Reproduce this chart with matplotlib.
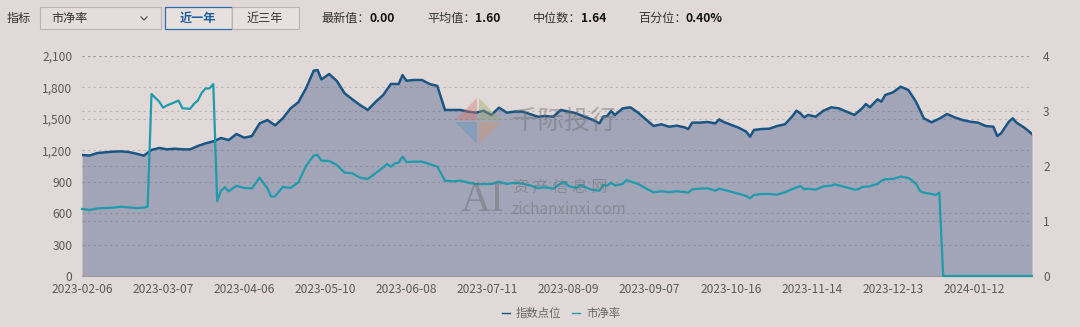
import matplotlib
matplotlib.use("Agg")
import matplotlib.pyplot as plt
from matplotlib.patches import Rectangle, Polygon
from matplotlib.lines import Line2D

plt.rcParams['font.family'] = ['Noto Sans CJK SC', 'DejaVu Sans']

# trading-day index of each reading, and the index level (left axis)
index_x = [0, 2, 4, 6, 8, 10, 12, 14, 16, 18, 20, 22, 24, 26, 28, 30, 32, 34, 36, 38,
           40, 42, 44, 46, 48, 50, 52, 54, 56, 58, 60, 61, 62, 64, 66, 68, 70, 72, 74, 76,
           78, 80, 82, 83, 84, 86, 88, 90, 92, 94, 96, 98, 100, 102, 104, 106, 108, 110, 112, 114,
           116, 118, 120, 122, 124, 126, 128, 130, 132, 134, 135, 136, 137, 138, 140, 142, 144, 146, 148, 150,
           152, 154, 156, 157, 158, 160, 162, 164, 165, 166, 168, 170, 172, 173, 174, 176, 178, 180, 182, 184,
           185, 186, 187, 188, 190, 192, 194, 196, 198, 200, 202, 203, 204, 206, 207, 208, 210, 212, 214, 216,
           218, 220, 222, 224, 226, 228, 230, 232, 234, 236, 237, 238, 240, 241, 242, 244, 245, 246]
index_vals = [1155, 1150, 1174, 1180, 1187, 1190, 1184, 1168, 1149, 1203, 1222, 1209, 1215, 1209, 1209, 1241, 1266, 1285, 1317, 1298,
              1355, 1320, 1336, 1457, 1489, 1438, 1505, 1600, 1658, 1791, 1960, 1966, 1877, 1928, 1861, 1744, 1686, 1632, 1585, 1661,
              1728, 1833, 1833, 1918, 1864, 1871, 1871, 1833, 1814, 1585, 1585, 1585, 1569, 1559, 1578, 1537, 1607, 1559, 1569, 1569,
              1546, 1521, 1527, 1521, 1585, 1569, 1553, 1521, 1495, 1457, 1521, 1527, 1575, 1537, 1600, 1610, 1559, 1495, 1432, 1448,
              1425, 1435, 1419, 1403, 1464, 1464, 1470, 1457, 1495, 1473, 1444, 1416, 1378, 1330, 1394, 1403, 1406, 1432, 1448, 1527,
              1578, 1553, 1514, 1537, 1521, 1578, 1610, 1600, 1569, 1537, 1600, 1642, 1610, 1686, 1664, 1728, 1753, 1807, 1775, 1661,
              1505, 1467, 1502, 1546, 1514, 1489, 1473, 1464, 1432, 1425, 1336, 1362, 1473, 1505, 1464, 1416, 1387, 1355]

# price-to-book ratio (right axis)
pb_x = [0, 2, 4, 6, 8, 10, 12, 14, 16, 17, 18, 20, 21, 22, 24, 25, 26, 28, 29, 30,
        31, 32, 33, 34, 35, 36, 37, 38, 40, 42, 44, 46, 48, 49, 50, 52, 54, 56, 58, 60,
        61, 62, 64, 66, 68, 70, 72, 74, 76, 78, 79, 80, 81, 82, 83, 84, 86, 88, 90, 92,
        94, 96, 98, 100, 102, 104, 106, 108, 110, 112, 114, 116, 118, 120, 122, 124, 125, 126, 128, 129,
        130, 132, 134, 135, 136, 137, 138, 140, 141, 142, 144, 146, 148, 150, 152, 154, 156, 157, 158, 160,
        162, 164, 165, 166, 168, 170, 172, 173, 174, 176, 178, 180, 182, 184, 186, 187, 188, 190, 192, 194,
        195, 196, 198, 200, 201, 202, 204, 205, 206, 207, 208, 210, 212, 213, 214, 215, 216, 217, 218, 220,
        221, 222, 223, 246]
pb_vals = [1.218, 1.200, 1.230, 1.236, 1.242, 1.260, 1.248, 1.236, 1.242, 1.262, 3.309, 3.17, 3.06, 3.10, 3.16, 3.19, 3.05, 3.04, 3.13, 3.19,
           3.33, 3.41, 3.41, 3.49, 1.363, 1.551, 1.612, 1.54, 1.64, 1.60, 1.594, 1.788, 1.594, 1.442, 1.45, 1.62, 1.60, 1.70, 2.00, 2.19,
           2.20, 2.097, 2.091, 2.018, 1.879, 1.867, 1.788, 1.764, 1.867, 1.976, 2.036, 1.988, 2.048, 2.06, 2.17, 2.072, 2.079, 2.079, 2.036, 1.988,
           1.733, 1.721, 1.733, 1.697, 1.672, 1.672, 1.672, 1.715, 1.672, 1.697, 1.679, 1.648, 1.600, 1.612, 1.588, 1.685, 1.703, 1.636, 1.600, 1.655,
           1.624, 1.57, 1.551, 1.655, 1.642, 1.697, 1.648, 1.672, 1.745, 1.721, 1.672, 1.594, 1.521, 1.539, 1.527, 1.539, 1.527, 1.515, 1.576, 1.588,
           1.594, 1.551, 1.588, 1.570, 1.533, 1.497, 1.454, 1.412, 1.473, 1.491, 1.491, 1.479, 1.521, 1.582, 1.636, 1.576, 1.588, 1.570, 1.630, 1.642,
           1.666, 1.648, 1.612, 1.570, 1.576, 1.618, 1.630, 1.655, 1.672, 1.733, 1.758, 1.764, 1.806, 1.794, 1.782, 1.733, 1.672, 1.545, 1.515, 1.491,
           1.473, 1.515, 0.0, 0.0]

tick_pos = [0, 21, 42, 63, 84, 105, 126, 147, 168, 189, 210, 231]
tick_labels = ['2023-02-06', '2023-03-07', '2023-04-06', '2023-05-10', '2023-06-08', '2023-07-11',
               '2023-08-09', '2023-09-07', '2023-10-16', '2023-11-14', '2023-12-13', '2024-01-12']

stats = [('最新值：', '0.00'), ('平均值：', '1.60'), ('中位数：', '1.64'), ('百分位：', '0.40%')]

BG = '#e1d9d7'
FILL = '#a1a5b7'
DARK = '#1b5583'
TEAL = '#1f9bab'
W, H = 1080, 327


def fx(x):
    return x / W


def fy(y):
    return 1 - y / H


fig = plt.figure(figsize=(10.8, 3.27), dpi=100, facecolor=BG)
ax = fig.add_axes([fx(82), fy(276), fx(1032) - fx(82), fy(56) - fy(276)])
ax.set_facecolor('none')

ax.fill_between(index_x, index_vals, 0, color=FILL, lw=0, zorder=1)
ax.plot(index_x, index_vals, color=DARK, lw=1.8, zorder=3, label='指数点位')
ax.set_xlim(0, 246)
ax.set_ylim(0, 2100)
ax.set_yticks(range(0, 2101, 300))
ax.set_yticklabels(['{:,}'.format(v) for v in range(0, 2101, 300)])
ax.set_xticks(tick_pos)
ax.set_xticklabels(tick_labels)
ax.grid(axis='y', color='#505050', alpha=0.28, lw=0.8, ls=(0, (2, 3)))
ax.set_axisbelow(False)
ax.tick_params(axis='y', length=0, pad=7, labelsize=8.6, labelcolor='#5a5a5a')
ax.tick_params(axis='x', length=0, pad=5, labelsize=8.6, labelcolor='#5a5a5a')

ax2 = ax.twinx()
ax2.plot(pb_x, pb_vals, color=TEAL, lw=1.6, zorder=3, clip_on=False, label='市净率')
ax2.set_ylim(0, 4)
ax2.set_yticks([0, 1, 2, 3, 4])
ax2.grid(axis='y', color='#505050', alpha=0.28, lw=0.8, ls=(0, (2, 3)))
ax2.tick_params(axis='y', length=0, pad=8, labelsize=8.6, labelcolor='#5a5a5a')

for a in (ax, ax2):
    for s in a.spines.values():
        s.set_visible(False)
ax.spines['bottom'].set_visible(True)
ax.spines['bottom'].set_color('#9c9898')
ax.spines['bottom'].set_linewidth(0.8)

# legend
h1, l1 = ax.get_legend_handles_labels()
h2, l2 = ax2.get_legend_handles_labels()
leg = fig.legend(h1 + h2, l1 + l2, loc='center', bbox_to_anchor=(fx(561), fy(313)), ncol=2,
                 frameon=False, fontsize=8.2, handlelength=0.7, handletextpad=0.5,
                 columnspacing=1.0, labelcolor='#666666')
for ln in leg.get_lines():
    ln.set_linewidth(1.0)

# watermark
logo = [([(455, 120), (477, 98), (477, 120)], '#d9736a'),
        ([(479, 98), (501, 120), (479, 120)], '#9aa86a'),
        ([(455, 122), (477, 122), (477, 144)], '#5f8fb8'),
        ([(479, 122), (501, 122), (479, 144)], '#d6956a')]
for pts, c in logo:
    fig.patches.append(Polygon([(fx(px), fy(py)) for px, py in pts], closed=True,
                               transform=fig.transFigure, fc=c, ec='none', alpha=0.4))
fig.text(fx(512), fy(121), '千际投行', fontsize=19, color='#707070', alpha=0.45, va='center')
fig.text(fx(461), fy(201), 'AI', fontsize=30, family='Liberation Serif', color='#6a6a6a',
         alpha=0.45, va='center')
fig.text(fx(513), fy(188), '资 产 信 息 网', fontsize=11.5, color='#6a6a6a', alpha=0.45, va='center')
fig.text(fx(512), fy(210), 'zichanxinxi.com', fontsize=11, color='#6a6a6a', alpha=0.45, va='center')

# top controls
fig.text(fx(7), fy(18.5), '指标', fontsize=8.7, color='#333333', va='center')
fig.patches.append(Rectangle((fx(40), fy(28.5)), fx(121), fx(0) + 21 / H, transform=fig.transFigure,
                             fc='#e4dddb', ec='#bcb4b2', lw=0.8))
fig.text(fx(51), fy(18), '市净率', fontsize=8.7, color='#333333', va='center')
fig.lines.append(Line2D([fx(141), fx(144), fx(147)], [fy(17), fy(20), fy(17)],
                        transform=fig.transFigure, color='#555555', lw=0.9))
fig.patches.append(Rectangle((fx(164.5), fy(28.5)), fx(67), 21 / H, transform=fig.transFigure,
                             fc='#e6e0de', ec='#2a6eb0', lw=0.9))
fig.text(fx(198), fy(18.5), '近一年', fontsize=8.7, color='#1c5d9e', weight='bold',
         ha='center', va='center')
fig.patches.append(Rectangle((fx(231.5), fy(28.5)), fx(67), 21 / H, transform=fig.transFigure,
                             fc='#e6e0de', ec='#bcb4b2', lw=0.8))
fig.text(fx(265), fy(18.5), '近三年', fontsize=8.7, color='#333333', ha='center', va='center')

stat_x = [321, 427, 533, 638]
for x0, (lab, val) in zip(stat_x, stats):
    fig.text(fx(x0), fy(18.5), lab, fontsize=8.7, color='#333333', va='center')
    fig.text(fx(x0 + 48), fy(18.5), val, fontsize=8.7, color='#111111', weight='bold', va='center')

fig.savefig('out.png', dpi=100, facecolor=BG)
